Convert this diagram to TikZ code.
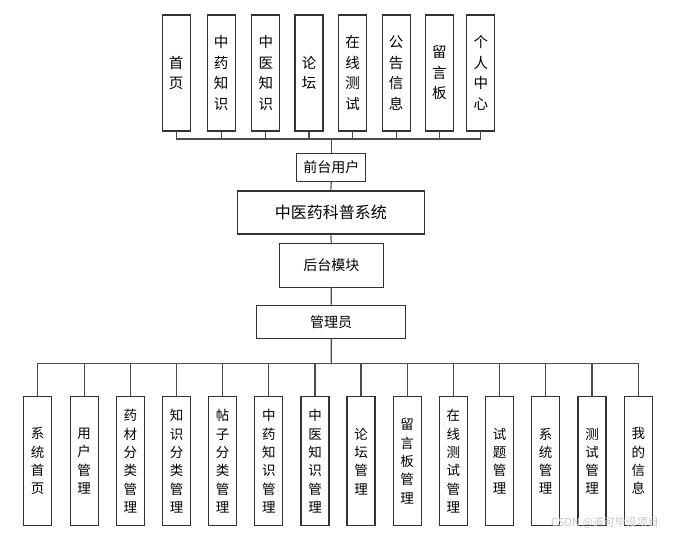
\documentclass[tikz,border=0pt]{standalone}
\usepackage{fontspec}
\setmainfont{Noto Sans CJK SC}
\begin{document}
\begin{tikzpicture}[x=1pt,y=-1pt,
  box/.style={draw=black!80, line width=1.1pt, fill=white, inner sep=0pt, align=center},
  topbox/.style={box, minimum width=28pt, minimum height=116pt, font=\fontsize{14.5pt}{20.5pt}\selectfont},
  botbox/.style={box, minimum width=28pt, minimum height=129pt, font=\fontsize{13.5pt}{18.3pt}\selectfont},
  midbox/.style={box, font=\fontsize{14pt}{16pt}\selectfont},
  conn/.style={draw=black!70, line width=1.1pt}
]
\useasboundingbox (0,0) rectangle (675,538);
% top boxes
\foreach \n/\x/\t in {1/176.2/首\\页, 2/221.2/中\\药\\知\\识, 3/265.9/中\\医\\知\\识, 4/309/论\\坛, 5/352.5/在\\线\\测\\试, 6/396.2/公\\告\\信\\息, 7/439.3/留\\言\\板, 8/480.9/个\\人\\中\\心}
  \node[topbox] (t\n) at (\x,73) {\t};
\node[midbox, minimum width=69pt, minimum height=28pt] (front) at (331.3,167.2) {前台用户};
\node[midbox, minimum width=187pt, minimum height=43pt, font=\fontsize{16pt}{18pt}\selectfont] (sys) at (330.8,212.5) {中医药科普系统};
\node[midbox, minimum width=104pt, minimum height=44pt] (back) at (331.3,265.3) {后台模块};
\node[midbox, minimum width=149pt, minimum height=33pt] (admin) at (331.2,321.7) {管理员};
% bottom boxes
\foreach \n/\x/\t in {1/37.7/系\\统\\首\\页, 2/84.2/用\\户\\管\\理, 3/130.3/药\\材\\分\\类\\管\\理, 4/176.7/知\\识\\分\\类\\管\\理, 5/222.7/帖\\子\\分\\类\\管\\理, 6/268.8/中\\药\\知\\识\\管\\理, 7/315/中\\医\\知\\识\\管\\理, 8/361/论\\坛\\管\\理, 9/407.2/留\\言\\板\\管\\理, 10/453.3/在\\线\\测\\试\\管\\理, 11/499.5/试\\题\\管\\理, 12/545.7/系\\统\\管\\理, 13/592/测\\试\\管\\理, 14/638.3/我\\的\\信\\息}
  \node[botbox] (b\n) at (\x,461.2) {\t};
% connectors
\coordinate (tb) at (331.3,139);
\coordinate (bb) at (331.3,363.3);
\foreach \n in {1,...,8} \draw[conn] (t\n.south) |- (tb);
\draw[conn] (tb) -- (front.north);
\draw[conn] (front.south) -- (sys.north);
\draw[conn] (sys.south) -- (back.north);
\draw[conn] (back.south) -- (admin.north);
\draw[conn] (admin.south) -- (bb);
\foreach \n in {1,...,14} \draw[conn] (b\n.north) |- (bb);
% watermark
\node[text=black!22, font=\fontsize{11pt}{13pt}\selectfont, inner sep=0pt] (wm) at (605,523) {CSDN @道可毕设项目};
\end{tikzpicture}
\end{document}
